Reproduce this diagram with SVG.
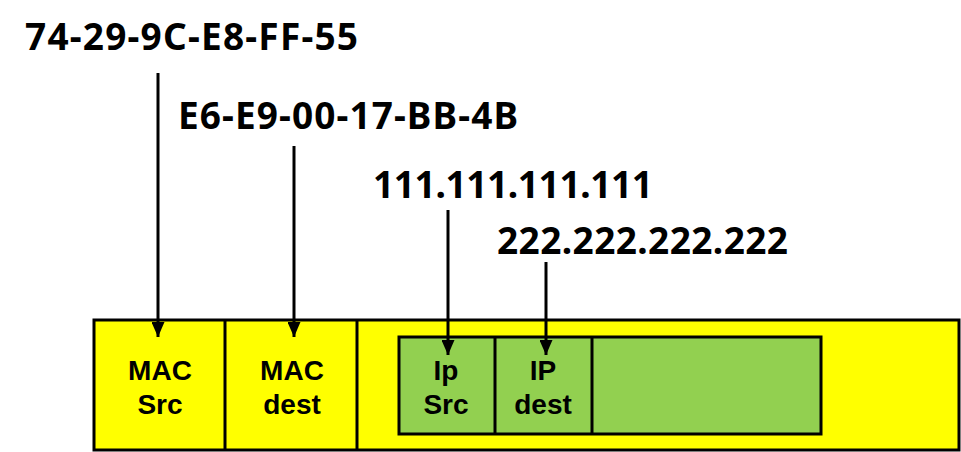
<svg xmlns="http://www.w3.org/2000/svg" width="961" height="452" viewBox="0 0 961 452">
<style>
.big{font-family:"Noto Sans","Open Sans",sans-serif;font-weight:bold;font-size:37px;fill:#000}
.lbl{font-family:"Liberation Sans","Noto Sans",sans-serif;font-weight:bold;font-size:28px;fill:#000;text-anchor:middle}
.box{stroke:#000;stroke-width:3}
.conn{stroke:#000;stroke-width:3;fill:none}
</style>
<defs>
<marker id="ad" viewBox="0 0 15 13" refX="15" refY="6.5" markerWidth="15" markerHeight="13" markerUnits="userSpaceOnUse" orient="auto">
<path d="M0,0 L15,6.5 L0,13 Z" fill="#000"/>
</marker>
</defs>
<g id="frame">
<rect x="94" y="320" width="865" height="130" fill="#ffff00" class="box"/>
<line x1="225" y1="320" x2="225" y2="450" class="box"/>
<line x1="357" y1="320" x2="357" y2="450" class="box"/>
</g>
<g id="mac-src"><text class="lbl" x="160" y="380">MAC</text><text class="lbl" x="160" y="414">Src</text></g>
<g id="mac-dest"><text class="lbl" x="292" y="380">MAC</text><text class="lbl" x="292" y="414">dest</text></g>
<g id="ip-packet">
<rect x="399" y="337" width="422" height="97" fill="#92d050" class="box"/>
<line x1="495" y1="337" x2="495" y2="434" class="box"/>
<line x1="592" y1="337" x2="592" y2="434" class="box"/>
</g>
<g id="ip-src"><text class="lbl" x="446" y="380">Ip</text><text class="lbl" x="446" y="414">Src</text></g>
<g id="ip-dest"><text class="lbl" x="543" y="380">IP</text><text class="lbl" x="543" y="414">dest</text></g>
<g id="mac-src-addr"><text class="big" x="25" y="50" textLength="333">74-29-9C-E8-FF-55</text></g>
<g id="mac-dest-addr"><text class="big" x="178" y="129" textLength="340">E6-E9-00-17-BB-4B</text></g>
<g id="ip-src-addr"><text class="big" x="373" y="198" textLength="280">111.111.111.111</text></g>
<g id="ip-dest-addr"><text class="big" x="497" y="254" textLength="291">222.222.222.222</text></g>
<g id="connectors">
<line x1="158" y1="73" x2="158" y2="337" class="conn" marker-end="url(#ad)"/>
<line x1="294" y1="146" x2="294" y2="337" class="conn" marker-end="url(#ad)"/>
<line x1="448" y1="210" x2="448" y2="355" class="conn" marker-end="url(#ad)"/>
<line x1="546" y1="262" x2="546" y2="355" class="conn" marker-end="url(#ad)"/>
</g>
</svg>
